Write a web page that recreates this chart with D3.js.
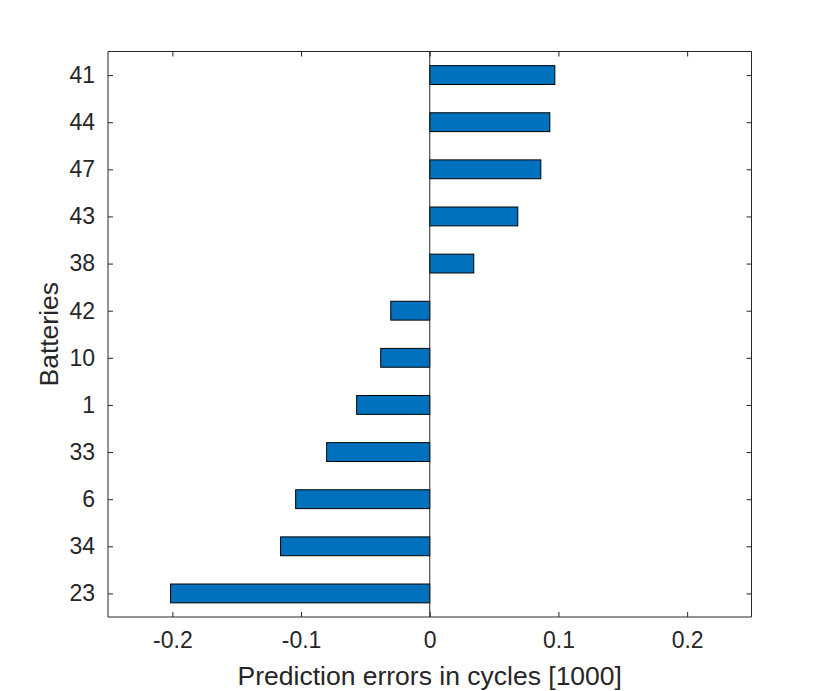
<!DOCTYPE html>
<html>
<head>
<meta charset="utf-8">
<script src="https://cdn.jsdelivr.net/npm/d3@7"></script>
<style>
  body { margin: 0; background: #fff; }
  text { font-family: "Liberation Sans", Arial, sans-serif; fill: #262626; }
</style>
</head>
<body>
<svg id="chart"></svg>
<script>
// batteries, bottom to top
const batteries = ["23", "34", "6", "33", "1", "10", "42", "38", "43", "47", "44", "41"];
const errors = [-0.2014, -0.1159, -0.1042, -0.0801, -0.0568, -0.0381, -0.0303, 0.0342, 0.0684, 0.0863, 0.0933, 0.0972];
const xTicks = [-0.2, -0.1, 0, 0.1, 0.2];

const W = 830, H = 691;
const margin = { top: 51.5, right: 78.5, bottom: 74, left: 108 };
const width = W - margin.left - margin.right;
const height = H - margin.top - margin.bottom;

const svg = d3.select("#chart").attr("width", W).attr("height", H);
const g = svg.append("g").attr("transform", `translate(${margin.left},${margin.top})`);

const x = d3.scaleLinear().domain([-0.25, 0.25]).range([0, width]);
// numeric y like matlab: positions 1..12, limits 0.5..12.5
const y = d3.scaleLinear().domain([0.5, batteries.length + 0.5]).range([height, 0]);
const barH = (y(0) - y(0.4));

// bars
g.selectAll(".bar")
  .data(errors)
  .enter().append("rect")
  .attr("class", "bar")
  .attr("x", d => x(Math.min(0, d)))
  .attr("y", (d, i) => y(i + 1) - barH / 2)
  .attr("width", d => Math.abs(x(d) - x(0)))
  .attr("height", barH)
  .attr("fill", "#0072BD")
  .attr("stroke", "#000")
  .attr("stroke-width", 1);

// baseline at zero
g.append("line")
  .attr("x1", x(0)).attr("x2", x(0))
  .attr("y1", 0).attr("y2", height)
  .attr("stroke", "#262626").attr("stroke-width", 1);

// axes (inward ticks, box)
const tk = 5;
const fmt = d => d === 0 ? "0" : String(d);   // plain hyphen minus like matlab
const xAxis = g.append("g").attr("transform", `translate(0,${height})`)
  .call(d3.axisBottom(x).tickValues(xTicks).tickSize(-tk).tickPadding(15).tickFormat(fmt));
const xTop = g.append("g")
  .call(d3.axisTop(x).tickValues(xTicks).tickSize(-tk).tickFormat(""));
const yAxis = g.append("g")
  .call(d3.axisLeft(y).tickValues(d3.range(1, batteries.length + 1)).tickSize(-tk).tickPadding(13).tickFormat(d => batteries[d - 1]));
const yRight = g.append("g").attr("transform", `translate(${width},0)`)
  .call(d3.axisRight(y).tickValues(d3.range(1, batteries.length + 1)).tickSize(-tk).tickFormat(""));

[xAxis, xTop, yAxis, yRight].forEach(a => {
  a.attr("font-size", null).attr("font-family", null);
  a.select(".domain").attr("stroke", "#262626").attr("stroke-width", 1);
  a.selectAll(".tick line").attr("stroke", "#262626");
  a.selectAll(".tick text").attr("font-size", 23).attr("fill", "#262626");
});
// matlab box lines end at the corners
xAxis.select(".domain").attr("d", `M0,0H${width}`);
xTop.select(".domain").attr("d", `M0,0H${width}`);
yAxis.select(".domain").attr("d", `M0,0V${height}`);
yRight.select(".domain").attr("d", `M0,0V${height}`);

// labels
svg.append("text")
  .attr("x", margin.left + width / 2)
  .attr("y", 685)
  .attr("text-anchor", "middle")
  .attr("font-size", 26.5)
  .text("Prediction errors in cycles [1000]");

svg.append("text")
  .attr("transform", `translate(58,${margin.top + height / 2}) rotate(-90)`)
  .attr("text-anchor", "middle")
  .attr("font-size", 26.5)
  .text("Batteries");
</script>
</body>
</html>
